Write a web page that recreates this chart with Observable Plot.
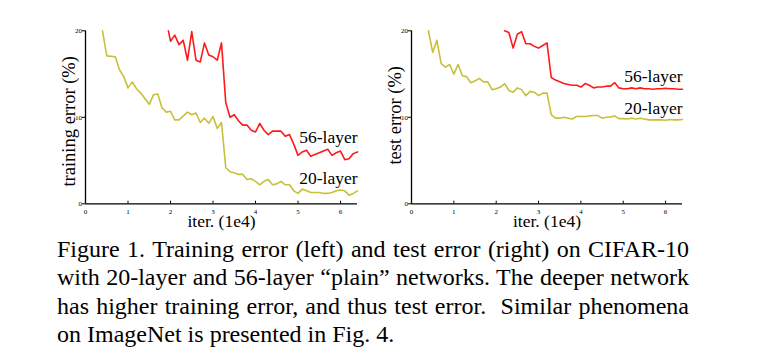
<!DOCTYPE html>
<html>
<head>
<meta charset="utf-8">
<script src="https://cdn.jsdelivr.net/npm/d3@7"></script>
<script src="https://cdn.jsdelivr.net/npm/@observablehq/plot@0.6"></script>
<style>
  body { margin: 0; background: #fff; }
  #wrap { position: relative; width: 758px; height: 359px; overflow: hidden; background: #fff;
          font-family: "Liberation Serif", "Times New Roman", serif; color: #000; }
  #left, #right { position: absolute; top: 0; }
  #left { left: 0; }
  #right { left: 379px; }
  #caption { position: absolute; left: 57px; top: 234.6px; width: 632px; font-size: 24px; line-height: 28.5px; }
  #caption div { text-align: justify; text-align-last: justify; }
  #caption div.last { text-align-last: left; }
</style>
</head>
<body>
<div id="wrap">
  <div id="left"></div>
  <div id="right"></div>
  <div id="caption"></div>
</div>
<script>
// ---- data ----
const xTicks = [0, 1, 2, 3, 4, 5, 6];
const yTicks = [0, 10, 20];
const seriesNames = ["20-layer", "56-layer"];
const xLabel = "iter. (1e4)";
const yLabelTrain = "training error (%)";
const yLabelTest = "test error (%)";

// training error, 20-layer
const trainIter20 = [0.4,0.5,0.7,0.8,0.9,1.0,1.1,1.2,1.3,1.5,1.6,1.7,1.8,1.9,2.0,2.1,2.2,
  2.4,2.5,2.6,2.7,2.8,2.9,3.0,3.1,3.2,3.3,3.4,3.5,3.6,3.7,3.8,3.9,4.0,4.1,4.2,
  4.3,4.4,4.5,4.6,4.7,4.8,4.9,5.0,5.1,5.2,5.3,5.4,5.5,5.6,5.7,5.8,5.9,6.0,6.1,6.2,6.3,6.4];
const trainErr20 = [20,17.1,17.0,15.5,14.7,13.4,14.1,13.3,12.8,11.5,12.6,12.7,11.1,10.6,10.7,9.7,9.7,
  10.6,10.3,10.5,9.4,9.9,9.3,10.1,8.7,9.4,4.2,3.7,3.6,3.4,3.4,2.8,2.9,2.6,2.2,2.6,
  2.8,2.2,2.3,2.6,2.2,2.2,1.5,1.2,1.7,1.5,1.3,1.3,1.3,1.2,1.2,1.3,1.5,1.6,1.5,1.0,1.2,1.5];

// training error, 56-layer
const trainIter56 = [1.95,2.0,2.1,2.2,2.3,2.4,2.5,2.6,2.7,2.8,2.9,3.0,3.1,3.2,3.3,3.4,3.5,3.6,3.7,3.8,3.9,
  4.0,4.1,4.2,4.3,4.4,4.5,4.6,4.7,4.8,4.9,5.0,5.1,5.2,5.3,5.4,5.5,5.6,5.7,5.8,5.9,6.0,6.1,6.2,6.3,6.4];
const trainErr56 = [20,18.8,19.5,18.4,18.9,16.6,19.9,16.6,16.4,18.6,17.2,17.0,16.6,18.6,11.7,10.0,10.3,9.6,9.1,9.1,8.5,
  8.3,9.3,8.5,8.0,8.4,8.4,8.4,7.8,8.0,6.9,5.6,6.0,6.2,5.5,5.7,5.9,6.1,6.3,5.6,5.9,6.1,5.1,5.2,5.8,6.0];

// test error, 20-layer
const testIter20 = [0.4,0.5,0.6,0.7,0.8,0.9,1.0,1.1,1.2,1.3,1.4,1.5,1.6,1.7,1.8,1.9,
  2.0,2.1,2.2,2.3,2.4,2.5,2.6,2.7,2.8,2.9,3.0,3.1,3.2,3.3,3.4,3.5,3.6,3.7,3.8,3.9,
  4.0,4.1,4.2,4.3,4.4,4.5,4.6,4.7,4.8,4.9,5.0,5.1,5.2,5.3,5.4,5.5,5.6,5.7,5.8,5.9,
  6.0,6.1,6.2,6.3,6.4];
const testErr20 = [20,17.5,18.9,16.2,15.8,16.1,15.0,16.1,14.8,14.7,14.0,14.2,14.5,14.1,14.1,13.2,
  13.3,13.5,13.9,13.1,12.9,13.4,13.2,12.5,13.0,12.9,12.5,12.8,12.8,10.3,9.9,9.9,10.0,9.9,9.8,10.1,
  10.1,10.1,10.15,10.2,10.2,9.9,10.0,10.05,10.15,9.85,9.85,9.8,9.9,9.8,9.9,9.8,9.7,9.7,9.7,9.7,
  9.65,9.75,9.7,9.7,9.75];

// test error, 56-layer
const testIter56 = [2.2,2.3,2.4,2.5,2.6,2.7,2.8,2.9,3.0,3.1,3.2,3.3,3.4,3.5,3.6,3.7,3.8,3.9,
  4.0,4.1,4.2,4.3,4.4,4.5,4.6,4.7,4.8,4.9,5.0,5.1,5.2,5.3,5.4,5.5,5.6,5.7,5.8,5.9,
  6.0,6.1,6.2,6.3,6.4];
const testErr56 = [20.0,19.8,18.0,19.6,19.9,18.5,18.5,18.2,18.0,18.3,18.6,14.6,14.3,14.1,13.9,13.8,13.7,13.7,
  13.5,13.9,13.7,13.4,13.5,13.5,13.6,13.6,14.0,13.4,13.3,13.3,13.4,13.3,13.4,13.3,13.3,13.25,13.3,13.3,
  13.35,13.3,13.3,13.25,13.25];

const captionLines = [
  "Figure 1. Training error (left) and test error (right) on CIFAR-10",
  "with 20-layer and 56-layer \u201Cplain\u201D networks. The deeper network",
  "has higher training error, and thus test error.\u00A0 Similar phenomena",
  "on ImageNet is presented in Fig. 4."
];

// ---- build tables ----
const toRows = (xs, ys) => xs.map((x, i) => ({iter: x, err: ys[i]}));
const train20 = toRows(trainIter20, trainErr20);
const train56 = toRows(trainIter56, trainErr56);
const test20 = toRows(testIter20, testErr20);
const test56 = toRows(testIter56, testErr56);

const RED = "#ff1a1a";
const YELLOW = "#c8c03a";
const FONT = "Liberation Serif, Times New Roman, serif";

function panel({rows20, rows56, yLabel, ml, mr, yLabelDy, lab56, lab20}) {
  return Plot.plot({
    width: 379, height: 232,
    marginLeft: ml, marginRight: mr, marginTop: 30.3, marginBottom: 28.7,
    x: {domain: [0, 6.4]},
    y: {domain: [0, 20]},
    style: {fontFamily: FONT, background: "transparent", color: "#000", overflow: "visible"},
    marks: [
      Plot.axisY(yTicks, {tickSize: 3, tickPadding: 0.5, fontSize: 7, label: null, stroke: "#000"}),
      Plot.axisX(xTicks, {tickSize: 0, tickPadding: 5.5, fontSize: 7, label: null}),
      Plot.ruleX(xTicks, {y1: 0, y2: 0.3, stroke: "#000", strokeWidth: 1}),
      Plot.ruleX([0], {stroke: "#000", strokeWidth: 1.3}),
      Plot.ruleY([0], {stroke: "#000", strokeWidth: 1.3}),
      Plot.line(rows20, {x: "iter", y: "err", stroke: YELLOW, strokeWidth: 1.6}),
      Plot.line(rows56, {x: "iter", y: "err", stroke: RED, strokeWidth: 1.6}),
      Plot.text([seriesNames[1]], {x: 6.4, y: lab56, text: d => d, textAnchor: "end", lineAnchor: "bottom", fontSize: 17.5, fill: "#000"}),
      Plot.text([seriesNames[0]], {x: 6.4, y: lab20, text: d => d, textAnchor: "end", lineAnchor: "bottom", fontSize: 17.5, fill: "#000"}),
      Plot.text([yLabel], {frameAnchor: "left", rotate: -90, dx: -10.5, dy: yLabelDy, textAnchor: "middle", lineAnchor: "bottom", fontSize: 18.5, fill: "#000", text: d => d}),
      Plot.text([xLabel], {frameAnchor: "bottom", dy: 23.5, lineAnchor: "bottom", fontSize: 17.5, fill: "#000", text: d => d})
    ]
  });
}

document.getElementById("left").appendChild(panel({
  rows20: train20, rows56: train56, yLabel: yLabelTrain, ml: 85, mr: 22, yLabelDy: 4, lab56: 7.0, lab20: 2.3
}));
document.getElementById("right").appendChild(panel({
  rows20: test20, rows56: test56, yLabel: yLabelTest, ml: 32, mr: 76, yLabelDy: -2, lab56: 14.06, lab20: 10.4
}));

const cap = document.getElementById("caption");
captionLines.forEach((t, i) => {
  const d = document.createElement("div");
  d.textContent = t;
  if (i === captionLines.length - 1) d.className = "last";
  cap.appendChild(d);
});
</script>
</body>
</html>
